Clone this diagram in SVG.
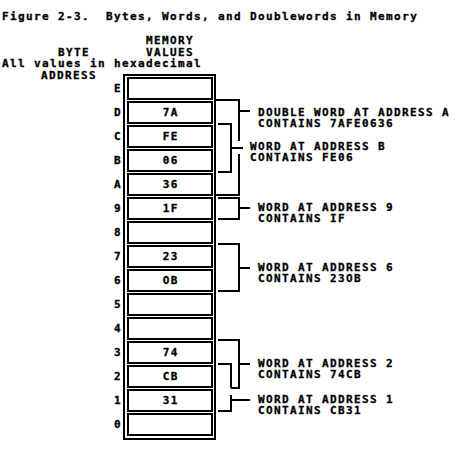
<svg xmlns="http://www.w3.org/2000/svg" width="470" height="465" viewBox="0 0 470 465">
<style>
text{font-family:"DejaVu Sans Mono","Liberation Mono",monospace;font-weight:bold;font-size:11px;letter-spacing:1.38px;fill:#000;stroke:#000;stroke-width:0.3;white-space:pre}
.v{text-anchor:middle}
.cell{fill:#fff;stroke:#000;stroke-width:2}
.frame{fill:#fff;stroke:#000;stroke-width:2}
.br{fill:none;stroke:#000;stroke-width:2}
</style>
<rect width="470" height="465" fill="#fff"/>
<g id="title"><text x="2" y="20" xml:space="preserve">Figure 2-3.  Bytes, Words, and Doublewords in Memory</text></g>
<g id="headers">
<text x="146" y="44">MEMORY</text>
<text x="146" y="56">VALUES</text>
<text x="58" y="56">BYTE</text>
<text x="2" y="67">All values in hexadecimal</text>
<text x="41" y="79">ADDRESS</text>
</g>
<g id="memory">
<rect class="frame" x="124" y="75" width="91" height="364"/>
<g id="cell-E"><rect class="cell" x="128" y="78" width="84" height="21"/><text x="114" y="91.5">E</text></g>
<g id="cell-D"><rect class="cell" x="128" y="102" width="84" height="21"/><text x="114" y="115.5">D</text><text class="v" x="170.7" y="115.5">7A</text></g>
<g id="cell-C"><rect class="cell" x="128" y="126" width="84" height="21"/><text x="114" y="139.5">C</text><text class="v" x="170.7" y="139.5">FE</text></g>
<g id="cell-B"><rect class="cell" x="128" y="150" width="84" height="21"/><text x="114" y="163.5">B</text><text class="v" x="170.7" y="163.5">06</text></g>
<g id="cell-A"><rect class="cell" x="128" y="174" width="84" height="21"/><text x="114" y="187.5">A</text><text class="v" x="170.7" y="187.5">36</text></g>
<g id="cell-9"><rect class="cell" x="128" y="198" width="84" height="21"/><text x="114" y="211.5">9</text><text class="v" x="170.7" y="211.5">1F</text></g>
<g id="cell-8"><rect class="cell" x="128" y="222" width="84" height="21"/><text x="114" y="235.5">8</text></g>
<g id="cell-7"><rect class="cell" x="128" y="246" width="84" height="21"/><text x="114" y="259.5">7</text><text class="v" x="170.7" y="259.5">23</text></g>
<g id="cell-6"><rect class="cell" x="128" y="270" width="84" height="21"/><text x="114" y="283.5">6</text><text class="v" x="170.7" y="283.5">OB</text></g>
<g id="cell-5"><rect class="cell" x="128" y="294" width="84" height="21"/><text x="114" y="307.5">5</text></g>
<g id="cell-4"><rect class="cell" x="128" y="318" width="84" height="21"/><text x="114" y="331.5">4</text></g>
<g id="cell-3"><rect class="cell" x="128" y="342" width="84" height="21"/><text x="114" y="355.5">3</text><text class="v" x="170.7" y="355.5">74</text></g>
<g id="cell-2"><rect class="cell" x="128" y="366" width="84" height="21"/><text x="114" y="379.5">2</text><text class="v" x="170.7" y="379.5">CB</text></g>
<g id="cell-1"><rect class="cell" x="128" y="390" width="84" height="21"/><text x="114" y="403.5">1</text><text class="v" x="170.7" y="403.5">31</text></g>
<g id="cell-0"><rect class="cell" x="128" y="414" width="84" height="21"/><text x="114" y="427.5">0</text></g>
</g>
<g id="connectors">
<path class="br" d="M216,100H239V141M239,154V196M216,195H239M239,111H250"/>
<path class="br" d="M218,124H231V172H218M231,148H243"/>
<path class="br" d="M218,198H239V219H218M239,208H250"/>
<path class="br" d="M218,244H239V291H218M239,268H250"/>
<path class="br" d="M218,340H239V388H231M218,364H231V388M239,364H250"/>
<path class="br" d="M231,395V411H218M231,400H250"/>
</g>
<g id="label-dwA"><text x="258" y="116">DOUBLE WORD AT ADDRESS A</text><text x="258" y="127">CONTAINS 7AFE0636</text></g>
<g id="label-wB"><text x="250" y="150">WORD AT ADDRESS B</text><text x="250" y="161">CONTAINS FE06</text></g>
<g id="label-w9"><text x="258" y="211">WORD AT ADDRESS 9</text><text x="258" y="222">CONTAINS IF</text></g>
<g id="label-w6"><text x="258" y="271">WORD AT ADDRESS 6</text><text x="258" y="282">CONTAINS 23OB</text></g>
<g id="label-w2"><text x="258" y="367">WORD AT ADDRESS 2</text><text x="258" y="378">CONTAINS 74CB</text></g>
<g id="label-w1"><text x="258" y="403">WORD AT ADDRESS 1</text><text x="258" y="414">CONTAINS CB31</text></g>
</svg>
